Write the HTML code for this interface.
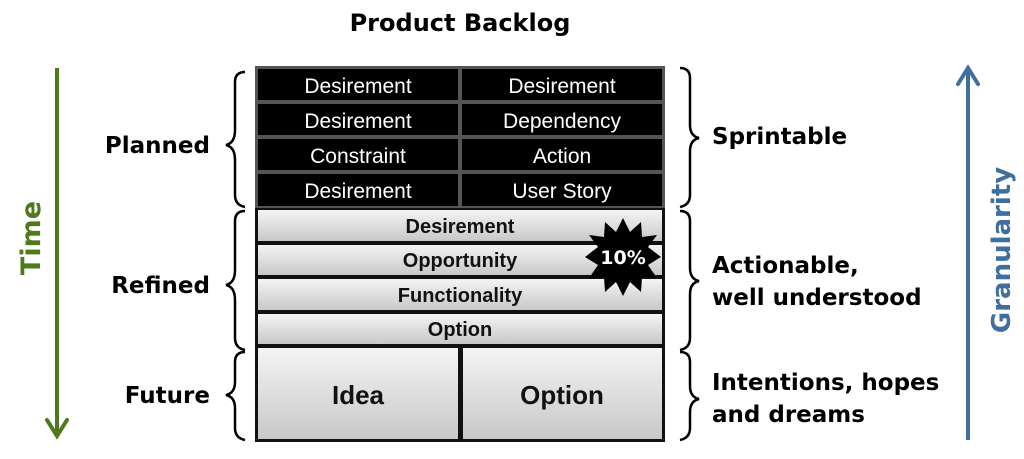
<!DOCTYPE html>
<html><head><meta charset="utf-8"><style>
html,body{margin:0;padding:0;background:#fff;}
svg{display:block;}
.h{font-family:"DejaVu Sans","Liberation Sans",sans-serif;font-weight:bold;font-size:23px;fill:#000;}
.w{font-family:"Liberation Sans",sans-serif;font-size:21px;fill:#fff;text-anchor:middle;}
.b{font-family:"Liberation Sans",sans-serif;font-weight:bold;font-size:20px;fill:#111;text-anchor:middle;}
</style></head><body>
<svg width="1024" height="459" viewBox="0 0 1024 459" xmlns="http://www.w3.org/2000/svg">
<defs>
<linearGradient id="g" x1="0" y1="0" x2="0" y2="1">
<stop offset="0" stop-color="#f4f4f4"/><stop offset="1" stop-color="#c8c8c8"/>
</linearGradient>
</defs>
<text class="h" x="460" y="31" text-anchor="middle" style="font-size:24px">Product Backlog</text>
<rect x="255" y="66" width="410" height="142" fill="#555"/>
<g fill="#000">
<rect x="258" y="69" width="200" height="31"/><rect x="462" y="69" width="200" height="31"/>
<rect x="258" y="104" width="200" height="31"/><rect x="462" y="104" width="200" height="31"/>
<rect x="258" y="139" width="200" height="31"/><rect x="462" y="139" width="200" height="31"/>
<rect x="258" y="174" width="200" height="32"/><rect x="462" y="174" width="200" height="32"/>
</g>
<text class="w" x="358" y="93">Desirement</text><text class="w" x="562" y="93">Desirement</text>
<text class="w" x="358" y="128">Desirement</text><text class="w" x="562" y="128">Dependency</text>
<text class="w" x="358" y="163">Constraint</text><text class="w" x="562" y="163">Action</text>
<text class="w" x="358" y="198">Desirement</text><text class="w" x="562" y="198">User Story</text>
<rect x="255" y="208" width="410" height="234" fill="#111"/>
<rect x="258" y="210" width="404" height="31" fill="url(#g)"/>
<rect x="258" y="245" width="404" height="30" fill="url(#g)"/>
<rect x="258" y="279" width="404" height="31" fill="url(#g)"/>
<rect x="258" y="314" width="404" height="30" fill="url(#g)"/>
<rect x="258" y="348" width="200" height="91" fill="url(#g)"/>
<rect x="463" y="348" width="199" height="91" fill="url(#g)"/>
<text class="b" x="460" y="233">Desirement</text>
<text class="b" x="460" y="267">Opportunity</text>
<text class="b" x="460" y="302">Functionality</text>
<text class="b" x="460" y="336">Option</text>
<text class="b" x="358" y="404" style="font-size:26px">Idea</text>
<text class="b" x="562" y="404" style="font-size:26px">Option</text>
<polygon fill="#000" points="623,218 630,232 641,222 642,237 657,235 648,247 661,257 648,265 657,278 642,277 641,292 630,282 623,296 616,282 605,292 604,277 589,278 598,265 585,257 598,247 589,235 604,237 605,222 616,232"/>
<text x="623" y="264" text-anchor="middle" style="font-family:'DejaVu Sans',sans-serif;font-weight:bold;font-size:19px;fill:#fff">10%</text>
<g fill="none" stroke="#000" stroke-width="2.5">
<path d="M245,72 Q235,72 235,82 L235,130 Q235,143 226,145 Q235,147 235,160 L235,195 Q235,205 245,207"/>
<path d="M245,211 Q235,211 235,221 L235,270 Q235,283 226,285 Q235,287 235,300 L235,338 Q235,348 245,350"/>
<path d="M245,352 Q235,352 235,362 L235,382 Q235,393 226,395 Q235,397 235,408 L235,428 Q235,438 245,440"/>
<path d="M680,68 Q690,68 690,78 L690,125 Q690,136 699,138 Q690,140 690,151 L690,195 Q690,205 680,207"/>
<path d="M680,211 Q690,211 690,221 L690,268 Q690,279 699,281 Q690,283 690,294 L690,338 Q690,348 680,350"/>
<path d="M680,352 Q690,352 690,362 L690,386 Q690,397 699,399 Q690,401 690,412 L690,428 Q690,438 680,440"/>
</g>
<text class="h" x="210" y="153" text-anchor="end">Planned</text>
<text class="h" x="210" y="293" text-anchor="end">Refined</text>
<text class="h" x="210" y="403" text-anchor="end">Future</text>
<text class="h" x="712" y="144">Sprintable</text>
<text class="h" x="712" y="273">Actionable,</text>
<text class="h" x="712" y="305">well understood</text>
<text class="h" x="712" y="390">Intentions, hopes</text>
<text class="h" x="712" y="422">and dreams</text>
<line x1="57" y1="68" x2="57" y2="433" stroke="#4f7a1c" stroke-width="4"/>
<path d="M47,420 L57,436 L67,420" fill="none" stroke="#4f7a1c" stroke-width="4" stroke-linecap="round"/>
<text x="0" y="0" transform="translate(40,238) rotate(-90)" text-anchor="middle" style="font-family:'DejaVu Sans',sans-serif;font-weight:bold;font-size:27px;fill:#4f7a1c">Time</text>
<line x1="968" y1="440" x2="968" y2="72" stroke="#3f6f9f" stroke-width="4"/>
<path d="M958,84 L968,68 L978,84" fill="none" stroke="#3f6f9f" stroke-width="4" stroke-linecap="round"/>
<text x="0" y="0" transform="translate(1010,250) rotate(-90)" text-anchor="middle" style="font-family:'DejaVu Sans',sans-serif;font-weight:bold;font-size:26px;fill:#3f6f9f">Granularity</text>
</svg>
</body></html>
